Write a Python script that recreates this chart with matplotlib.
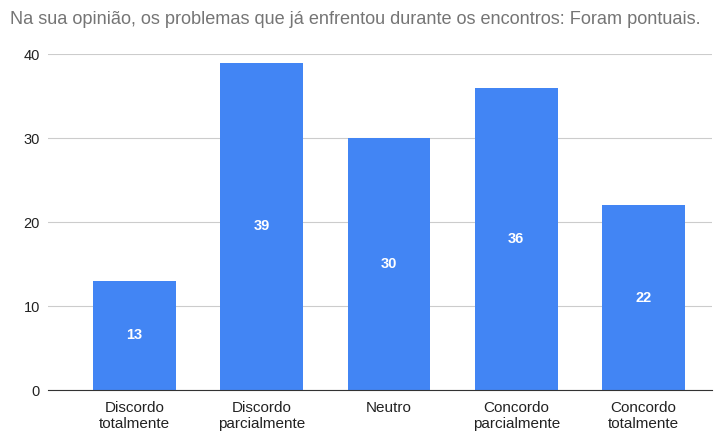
import matplotlib.pyplot as plt

plt.rcParams['font.family'] = ['Liberation Sans', 'DejaVu Sans']

categories = ["Discordo\ntotalmente", "Discordo\nparcialmente", "Neutro",
              "Concordo\nparcialmente", "Concordo\ntotalmente"]
values = [13, 39, 30, 36, 22]
yticks = [0, 10, 20, 30, 40]

fig = plt.figure(figsize=(7.18, 4.37), dpi=100)
ax = fig.add_axes([0.067, 0.1075, 0.925, 0.7685])

x = range(len(categories))
ax.bar(x, values, width=0.65, color="#4285F4", zorder=3)

for xi, v in zip(x, values):
    ax.text(xi, v / 2, str(v), ha="center", va="center", color="white",
            fontsize=10.5, fontweight="bold", zorder=4)

ax.set_xlim(-0.677, 4.54)
ax.set_ylim(0, 40)
ax.set_yticks(yticks)
ax.set_xticks(list(x))
ax.set_xticklabels(categories, fontsize=11, color="#222222", linespacing=1.15)
ax.tick_params(axis="y", labelsize=10.5, colors="#222222", length=0, pad=6)
ax.tick_params(axis="x", length=0, pad=8)
ax.grid(axis="y", color="#cccccc", linewidth=0.8, zorder=0)
for s in ["top", "right", "left"]:
    ax.spines[s].set_visible(False)
ax.spines["bottom"].set_color("#333333")
ax.spines["bottom"].set_zorder(5)

fig.text(0.014, 0.955, "Na sua opinião, os problemas que já enfrentou durante os encontros: Foram pontuais.",
         fontsize=13.1, color="#757575", ha="left", va="center")

fig.savefig("out.png", dpi=100)
